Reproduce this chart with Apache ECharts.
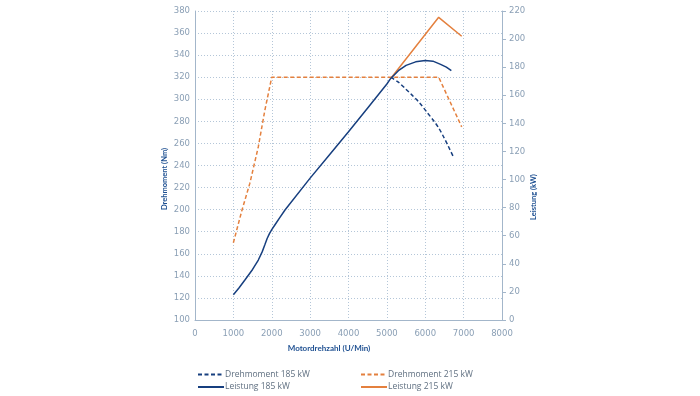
<!DOCTYPE html>
<html><head><meta charset="utf-8">
<script src="https://cdn.jsdelivr.net/npm/echarts@6/dist/echarts.min.js"></script>
<style>html,body{margin:0;padding:0;background:#fff}#c{width:700px;height:396px}</style>
</head><body><div id="c"></div>
<script>
const seriesNames = ['Drehmoment 185 kW','Drehmoment 215 kW','Leistung 185 kW','Leistung 215 kW'];
// Drehmoment 215 kW (Nm)
const torque215Rpm = [1000,1220,1430,1650,1820,2000,6350,6950];
const torque215Nm  = [170,199,224,257,290,320,320,275];
// Drehmoment 185 kW (Nm) - visible part after divergence
const torque185Rpm = [5100,5300,5470,5650,5860,6050,6210,6350,6470,6600,6730];
const torque185Nm  = [320,315.5,310,304,296.4,288,281,274,266.5,257.5,248];
// Leistung 185 kW (kW)
const power185Rpm = [1000,1150,1300,1500,1650,1750,1820,1880,1940,2000,2085,2200,2345,3000,3500,4000,4500,5000,5100,5300,5500,5750,6000,6200,6400,6550,6680];
const power185kW  = [18,23,28.5,36,42.7,48.5,53.5,58,61.5,64.3,67.8,72.5,78.3,101,117.5,134,151,168,172,177.5,181.3,183.8,184.8,184.3,182,180,177.5];
// Leistung 215 kW (kW) - visible part
const power215Rpm = [5100,6350,6950];
const power215kW  = [172,215.5,202];

const zip = (a,b)=>a.map((v,i)=>[v,b[i]]);
const BLUE='#173f7f', ORANGE='#e4803e', AXC='#a3b6ca', LBL='#8a9fb5', NAME='#1d4f91';
const legendCommon = {orient:'vertical',top:370,padding:0,itemWidth:26,itemHeight:8,itemGap:3.5,
  itemStyle:{opacity:0},textStyle:{fontFamily:'Open Sans',fontSize:8.5,color:'#5f6f80',padding:[0,0,0,-4]}};
const chart = echarts.init(document.getElementById('c'));
chart.setOption({
  animation:false,
  grid:{left:195,right:198,top:11,bottom:76},
  legend:[
    Object.assign({data:[seriesNames[0],seriesNames[2]],left:197},legendCommon),
    Object.assign({data:[seriesNames[1],seriesNames[3]],left:360},legendCommon)
  ],
  xAxis:{type:'value',min:0,max:8000,interval:1000,
    name:'Motordrehzahl (U/Min)',nameLocation:'middle',nameGap:24,
    nameTextStyle:{fontFamily:'Lato',fontWeight:'bold',fontSize:8,color:NAME,padding:[0,39,0,0]},
    axisLine:{lineStyle:{color:AXC,width:1}},axisTick:{show:false},
    axisLabel:{fontFamily:'DejaVu Sans',fontSize:8.5,color:LBL,margin:9,formatter:v=>String(v)},
    splitLine:{show:true,lineStyle:{color:'#b4c6d8',type:[1,2],width:1}}},
  yAxis:[
    {type:'value',min:100,max:380,interval:20,position:'left',
     name:'Drehmoment (Nm)',nameLocation:'middle',nameGap:26,
     nameTextStyle:{fontFamily:'Lato',fontWeight:'bold',fontSize:7.5,color:NAME,padding:[0,27,0,0]},
     axisLine:{show:true,lineStyle:{color:AXC,width:1}},axisTick:{show:false},
     axisLabel:{fontFamily:'DejaVu Sans',fontSize:8.5,color:LBL,margin:5,formatter:v=>String(v)},
     splitLine:{show:true,lineStyle:{color:'#b4c6d8',type:[1,2],width:1}}},
    {type:'value',min:0,max:220,interval:20,position:'right',
     name:'Leistung (kW)',nameLocation:'middle',nameGap:25,
     nameTextStyle:{fontFamily:'Lato',fontWeight:'bold',fontSize:7.5,color:NAME,padding:[0,63,0,0]},
     axisLine:{show:true,lineStyle:{color:AXC,width:1}},
     axisTick:{show:true,inside:false,length:4,lineStyle:{color:AXC}},
     axisLabel:{fontFamily:'DejaVu Sans',fontSize:8.5,color:LBL,margin:7,formatter:v=>String(v)},
     splitLine:{show:false}}
  ],
  series:[
    {name:seriesNames[0],type:'line',yAxisIndex:0,data:zip(torque185Rpm,torque185Nm),symbol:'none',smooth:0.3,
     lineStyle:{color:BLUE,width:1.5,type:[4,2.5]},itemStyle:{color:BLUE},z:3},
    {name:seriesNames[1],type:'line',yAxisIndex:0,data:zip(torque215Rpm,torque215Nm),symbol:'none',
     lineStyle:{color:ORANGE,width:1.5,type:[4,2.5]},itemStyle:{color:ORANGE},z:4},
    {name:seriesNames[2],type:'line',yAxisIndex:1,data:zip(power185Rpm,power185kW),symbol:'none',
     lineStyle:{color:BLUE,width:1.5},itemStyle:{color:BLUE},z:5},
    {name:seriesNames[3],type:'line',yAxisIndex:1,data:zip(power215Rpm,power215kW),symbol:'none',
     lineStyle:{color:ORANGE,width:1.5},itemStyle:{color:ORANGE},z:4}
  ]
});
</script></body></html>
